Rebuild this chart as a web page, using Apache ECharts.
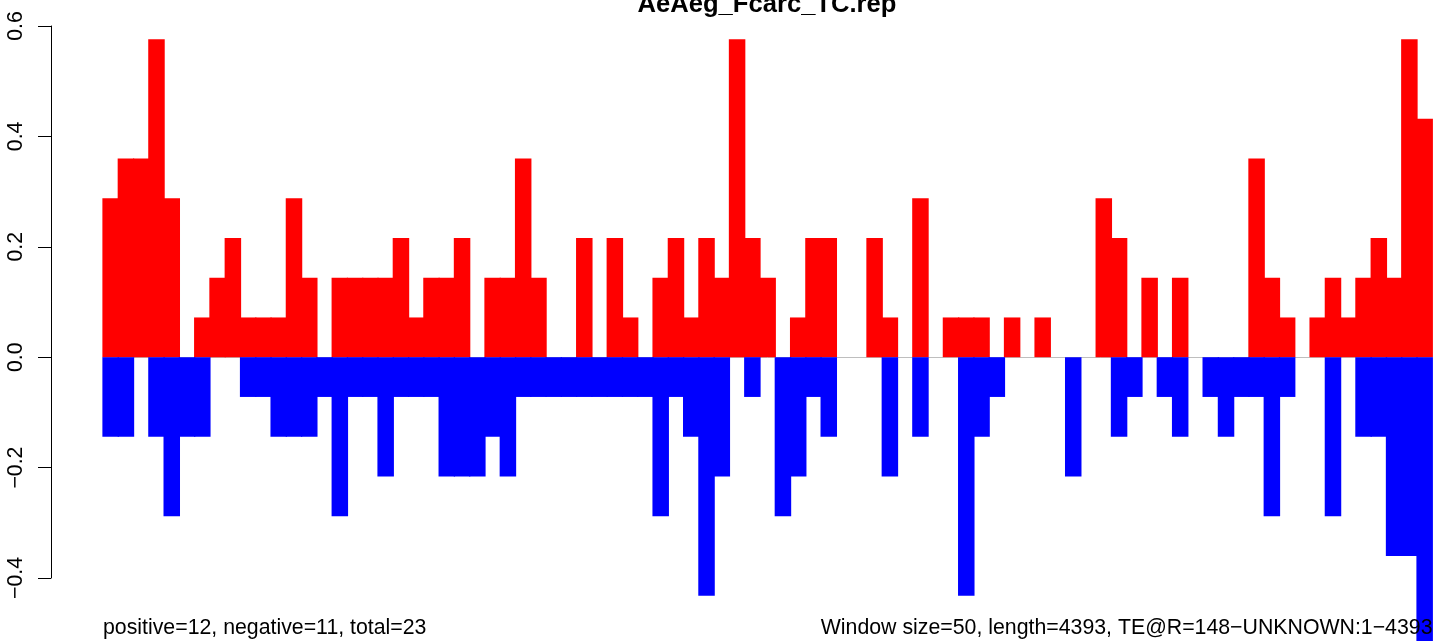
<!DOCTYPE html>
<html>
<head>
<meta charset="utf-8">
<script src="https://cdn.jsdelivr.net/npm/echarts@6/dist/echarts.min.js"></script>
<style>
html,body{margin:0;padding:0;background:#ffffff;}
#chart{width:1441px;height:641px;}
</style>
</head>
<body>
<div id="chart"></div>
<script>
// Window index (1..87), window size 50 over length 4393
const windows = [
  1,2,3,4,5,6,7,8,9,10,11,12,13,14,15,16,17,18,19,20,
  21,22,23,24,25,26,27,28,29,30,31,32,33,34,35,36,37,38,39,40,
  41,42,43,44,45,46,47,48,49,50,51,52,53,54,55,56,57,58,59,60,
  61,62,63,64,65,66,67,68,69,70,71,72,73,74,75,76,77,78,79,80,
  81,82,83,84,85,86,87
];

// positive strand score per window (red)
const positive = [
  0.288,0.36,0.36,0.576,0.288,0,0.072,0.144,0.216,0.072,
  0.072,0.072,0.288,0.144,0,0.144,0.144,0.144,0.144,0.216,
  0.072,0.144,0.144,0.216,0,0.144,0.144,0.36,0.144,0,
  0,0.216,0,0.216,0.072,0,0.144,0.216,0.072,0.216,
  0.144,0.576,0.216,0.144,0,0.072,0.216,0.216,0,0,
  0.216,0.072,0,0.288,0,0.072,0.072,0.072,0,0.072,
  0,0.072,0,0,0,0.288,0.216,0,0.144,0,
  0.144,0,0,0,0,0.36,0.144,0.072,0,0.072,
  0.144,0.072,0.144,0.216,0.144,0.576,0.432
];

// negative strand score per window (blue)
const negative = [
  -0.144,-0.144,0,-0.144,-0.288,-0.144,-0.144,0,0,-0.072,
  -0.072,-0.144,-0.144,-0.144,-0.072,-0.288,-0.072,-0.072,-0.216,-0.072,
  -0.072,-0.072,-0.216,-0.216,-0.216,-0.144,-0.216,-0.072,-0.072,-0.072,
  -0.072,-0.072,-0.072,-0.072,-0.072,-0.072,-0.288,-0.072,-0.144,-0.432,
  -0.216,0,-0.072,0,-0.288,-0.216,-0.072,-0.144,0,0,
  0,-0.216,0,-0.144,0,0,-0.432,-0.144,-0.072,0,
  0,0,0,-0.216,0,0,-0.144,-0.072,0,-0.072,
  -0.144,0,-0.072,-0.144,-0.072,-0.072,-0.288,-0.072,0,0,
  -0.288,0,-0.144,-0.144,-0.36,-0.36,-0.576
];

const yTicks = [-0.4, -0.2, 0, 0.2, 0.4, 0.6];
const yTickLabels = ['\u22120.4', '\u22120.2', '0.0', '0.2', '0.4', '0.6'];

const titleText = 'AeAeg_Fcarc_TC.rep';
const leftNote = 'positive=12, negative=11, total=23';
const rightNote = 'Window size=50, length=4393, TE@R=148\u2212UNKNOWN:1\u22124393';

const FONT = '"Liberation Sans", Arial, Helvetica, sans-serif';

// empty windows are left blank (no zero-height mark)
const toBarData = arr => arr.map(v => (v === 0 ? '-' : v));

const chart = echarts.init(document.getElementById('chart'), null, {renderer: 'canvas'});

chart.setOption({
  animation: false,
  backgroundColor: '#ffffff',
  grid: {left: 103, right: 8.7, top: 26, height: 552, containLabel: false},
  xAxis: {
    type: 'category',
    data: windows,
    boundaryGap: true,
    axisLine: {show: true, onZero: true, lineStyle: {color: '#bebebe', width: 1}},
    axisTick: {show: false},
    axisLabel: {show: false},
    splitLine: {show: false}
  },
  yAxis: {
    type: 'value',
    min: -0.4,
    max: 0.6,
    interval: 0.2,
    position: 'left',
    offset: 52,
    axisLine: {show: true, lineStyle: {color: '#000000', width: 1}},
    axisTick: {show: true, length: 13, lineStyle: {color: '#000000', width: 1}},
    splitLine: {show: false},
    axisLabel: {
      rotate: 90,
      margin: 24,
      color: '#000000',
      fontSize: 21.3,
      fontFamily: FONT,
      formatter: function (v) {
        const i = yTicks.findIndex(t => Math.abs(t - v) < 1e-9);
        return i >= 0 ? yTickLabels[i] : '';
      }
    }
  },
  series: [
    {
      name: 'positive',
      type: 'bar',
      data: toBarData(positive),
      barGap: '-100%',
      barWidth: '108%',
      clip: false,
      itemStyle: {color: '#ff0000'},
      z: 2
    },
    {
      name: 'negative',
      type: 'bar',
      data: toBarData(negative),
      barGap: '-100%',
      barWidth: '108%',
      clip: false,
      itemStyle: {color: '#0000ff'},
      z: 2
    }
  ],
  graphic: [
    {
      type: 'text', x: 767, y: 5, z: 100,
      style: {text: titleText, fontSize: 25.6, fontWeight: 'bold', fontFamily: FONT, fill: '#000000',
              align: 'center', textAlign: 'center', verticalAlign: 'middle', textVerticalAlign: 'middle'}
    },
    {
      type: 'text', x: 103, y: 628.5, z: 100,
      style: {text: leftNote, fontSize: 21.3, fontFamily: FONT, fill: '#000000',
              align: 'left', textAlign: 'left', verticalAlign: 'middle', textVerticalAlign: 'middle'}
    },
    {
      type: 'text', x: 1432.5, y: 628.5, z: 100,
      style: {text: rightNote, fontSize: 21.3, fontFamily: FONT, fill: '#000000',
              align: 'right', textAlign: 'right', verticalAlign: 'middle', textVerticalAlign: 'middle'}
    }
  ]
});
</script>
</body>
</html>
